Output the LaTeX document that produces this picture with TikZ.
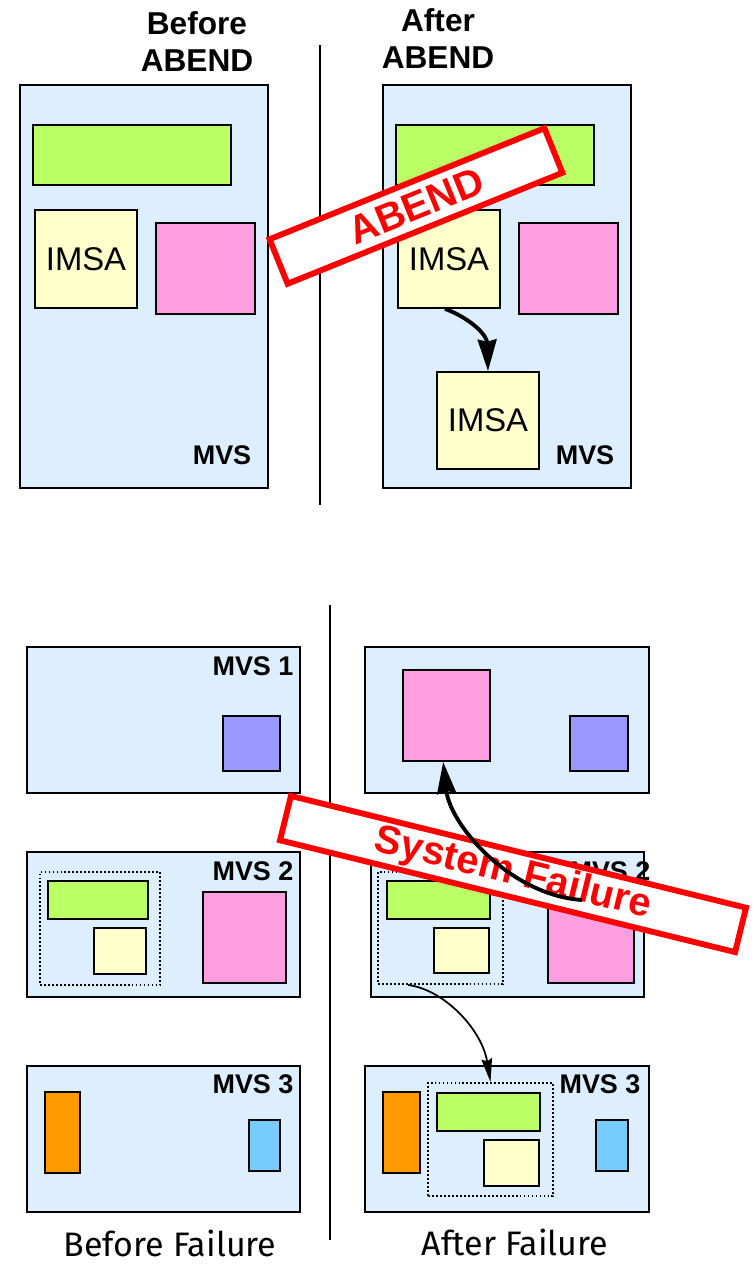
\documentclass[tikz,border=0pt]{standalone}
\usepackage{fontspec}
\setmainfont{Liberation Sans}
\newfontfamily\handfont{Fira Sans}
\usetikzlibrary{arrows.meta,fit,positioning}

\definecolor{mvsfill}{HTML}{DDEEFF}
\definecolor{appgreen}{HTML}{BBFF66}
\definecolor{appyellow}{HTML}{FFFFCC}
\definecolor{apppink}{HTML}{FF9FDF}
\definecolor{apppurple}{HTML}{9999FF}
\definecolor{apporange}{HTML}{FF9900}
\definecolor{appblue}{HTML}{77CCFF}

\tikzstyle{mvs}=[
  draw=black,
  fill=mvsfill,
  line width=1.5pt,
  inner sep=0pt,
]
\tikzstyle{region}=[
  draw=black,
  line width=1.5pt,
  inner sep=0pt,
]
\tikzstyle{imsatext}=[
  inner sep=0pt,
  font=\fontsize{28}{28}\selectfont,
]
\tikzstyle{group}=[
  draw=black,
  line width=1.6pt,
  dash pattern=on 1.6pt off 1.8pt,
  inner sep=0pt,
]
\tikzstyle{stamp}=[
  draw=red,
  fill=white,
  text=red,
  line width=5pt,
  inner sep=0pt,
  font=\bfseries\fontsize{34}{34}\selectfont,
]
\tikzstyle{mvslabel}=[
  inner sep=0pt,
  font=\bfseries\fontsize{23}{23}\selectfont,
]
\tikzstyle{heading}=[
  align=center,
  inner sep=0pt,
  font=\bfseries\fontsize{27}{31.6}\selectfont,
]
\tikzstyle{caption}=[
  inner sep=0pt,
  font=\handfont\fontsize{29}{29}\selectfont,
]
\tikzset{
  x=0.03cm, y=-0.03cm,
  >={Stealth[length=27pt,width=16pt,inset=2pt]},
}

\begin{document}
\begin{tikzpicture}
  \useasboundingbox (0,0) rectangle (755,1265);

  % before / after ABEND
  \node[heading] (hbefore) at (197,42) {Before\\ABEND};
  \node[heading] (hafter) at (438,39) {After\\ABEND};
  \draw[line width=1.3pt] (320,45) -- (320,505);

  \node[mvs, fit={(20,85) (268,488)}] (lmvs) {};
  \node[region, fill=appgreen, fit={(33,125) (231,185)}] (lgreen) {};
  \node[region, fill=appyellow, fit={(35,210) (137,308)}] (limsa) {};
  \node[imsatext] (limsatext) at (limsa.center) {IMSA};
  \node[region, fill=apppink, fit={(156,223) (255,314)}] (lpink) {};
  \node[mvslabel] (lmvslabel) at (222,455) {MVS};

  \node[mvs, fit={(383,85) (631,488)}] (rmvs) {};
  \node[region, fill=appgreen, fit={(396,125) (594,185)}] (rgreen) {};
  \node[region, fill=appyellow, fit={(398,210) (500,308)}] (rimsa) {};
  \node[imsatext] (rimsatext) at (rimsa.center) {IMSA};
  \node[region, fill=apppink, fit={(519,223) (618,314)}] (rpink) {};
  \node[region, fill=appyellow, fit={(437,372) (539,469)}] (newimsa) {};
  \node[imsatext] (newimsatext) at (newimsa.center) {IMSA};
  \node[mvslabel] (rmvslabel) at (585,455) {MVS};

  \draw[->, line width=3.3pt] ([xshift=-0.12cm]rimsa.south) .. controls (470,318) and (487,335) .. (newimsa.north);

  \node[stamp, rotate=22, minimum width=253pt, minimum height=41pt] (abend) at (416,206) {ABEND};

  % before / after failure
  \draw[line width=1.3pt] (330,605) -- (330,1240);

  \node[mvs, fit={(27,647) (300,793)}] (mvsa) {};
  \node[mvslabel] (mvsalabel) at (253,666) {MVS 1};
  \node[region, fill=apppurple, fit={(223,716) (280,771)}] (mvsapurple) {};

  \node[mvs, fit={(27,852) (300,997)}] (mvsb) {};
  \node[mvslabel] (mvsblabel) at (253,871) {MVS 2};
  \node[group, fit={(40,872) (160,985)}] (mvsbgroup) {};
  \node[region, fill=appgreen, fit={(48,881) (148,919)}] (mvsbgreen) {};
  \node[region, fill=appyellow, fit={(94,928) (146,974)}] (mvsbyellow) {};
  \node[region, fill=apppink, fit={(203,892) (286,983)}] (mvsbpink) {};

  \node[mvs, fit={(27,1066) (300,1212)}] (mvsc) {};
  \node[mvslabel] (mvsclabel) at (253,1084) {MVS 3};
  \node[region, fill=apporange, fit={(45,1092) (80,1173)}] (mvscorange) {};
  \node[region, fill=appblue, fit={(249,1120) (280,1171)}] (mvscblue) {};

  \node[mvs, fit={(365,647) (649,793)}] (newa) {};
  \node[region, fill=apppink, fit={(403,670) (490,761)}] (newapink) {};
  \node[region, fill=apppurple, fit={(570,716) (628,771)}] (newapurple) {};

  \node[mvs, fit={(371,852) (644,997)}] (newb) {};
  \node[mvslabel] (newblabel) at (610,871) {MVS 2};
  \node[group, fit={(378,872) (503,984)}] (newbgroup) {};
  \node[region, fill=appgreen, fit={(387,881) (490,919)}] (newbgreen) {};
  \node[region, fill=appyellow, fit={(434,928) (489,973)}] (newbyellow) {};
  \node[region, fill=apppink, fit={(548,892) (634,983)}] (newbpink) {};

  \node[mvs, fit={(365,1066) (649,1212)}] (newc) {};
  \node[mvslabel] (newclabel) at (600,1084) {MVS 3};
  \node[region, fill=apporange, fit={(383,1092) (420,1173)}] (newcorange) {};
  \node[group, fit={(428,1083) (553,1196)}] (newcgroup) {};
  \node[region, fill=appgreen, fit={(437,1093) (540,1131)}] (newcgreen) {};
  \node[region, fill=appyellow, fit={(484,1140) (539,1186)}] (newcyellow) {};
  \node[region, fill=appblue, fit={(596,1120) (628,1171)}] (newcblue) {};

  \draw[-{Stealth[length=20pt,width=9pt,inset=2pt]}, line width=1.5pt]
    ([xshift=-0.97cm]newbgroup.south) .. controls (445,990) and (482,1030) .. (newcgroup.north);

  \node[stamp, rotate=-13.8, minimum width=400pt, minimum height=39pt] (sysfail) at (513,874) {System Failure};

  \coordinate (failsrc) at (582,900);
  \draw[->, line width=3.3pt] (failsrc) .. controls (510,895) and (450,825) .. ([xshift=-0.1cm]newapink.south);

  \node[caption] (lbefore) at (170,1243) {Before Failure};
  \node[caption] (lafter) at (515,1242) {After Failure};
\end{tikzpicture}
\end{document}
